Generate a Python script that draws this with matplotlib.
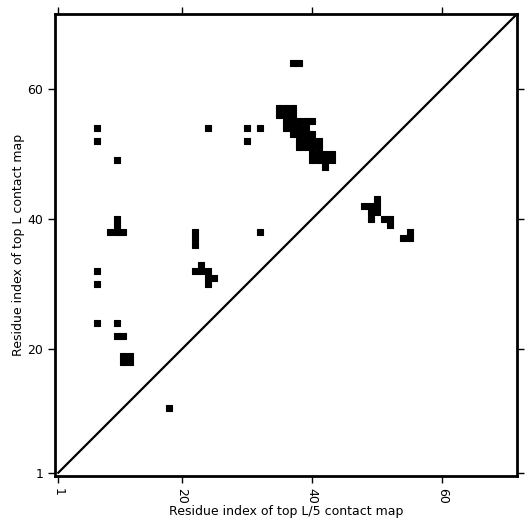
import matplotlib
matplotlib.use("Agg")
import matplotlib.pyplot as plt

plt.rcParams["font.size"] = 9

L = 71
ticks = [1, 20, 40, 60]

# contacts (residue i, residue j)
cx = [7, 7, 10, 24, 30, 32, 30,
      10, 10, 9, 10, 11,
      22, 22, 22, 32,
      7, 7,
      23, 22, 23, 24, 24, 25, 24,
      7, 10, 10, 11,
      11, 12, 11, 12,
      18,
      37, 38,
      35, 36, 37, 35, 36, 37,
      36, 37, 38, 39, 40,
      36, 37, 38, 39,
      37, 38, 39, 40,
      38, 39, 40, 41,
      38, 39, 40, 41,
      40, 41, 42, 43,
      40, 41, 42, 43,
      42,
      50, 48, 49, 50, 49, 50, 49, 51, 52, 52, 55, 54, 55]
cy = [54, 52, 49, 54, 54, 54, 52,
      40, 39, 38, 38, 38,
      38, 37, 36, 38,
      32, 30,
      33, 32, 32, 32, 31, 31, 30,
      24, 24, 22, 22,
      19, 19, 18, 18,
      11,
      64, 64,
      57, 57, 57, 56, 56, 56,
      55, 55, 55, 55, 55,
      54, 54, 54, 54,
      53, 53, 53, 53,
      52, 52, 52, 52,
      51, 51, 51, 51,
      50, 50, 50, 50,
      49, 49, 49, 49,
      48,
      43, 42, 42, 42, 41, 41, 40, 40, 40, 39, 38, 37, 37]

fig = plt.figure(figsize=(5.31, 5.31), dpi=100)
ax = fig.add_axes([0.1036, 0.1036, 0.87, 0.87])

ax.scatter(cx, cy, marker="s", s=23, c="black", edgecolors="black",
           linewidths=0.8, antialiased=False)
ax.plot([1, L + 1], [1, L + 1], color="black", linewidth=1.6)

ax.set_xlim(0.5, L + 0.5)
ax.set_ylim(0.5, L + 0.5)
ax.set_xticks(ticks)
ax.set_yticks(ticks)
ax.tick_params(direction="out", top=True, right=True, length=5, width=1)
plt.setp(ax.get_xticklabels(), rotation=270)
for s in ax.spines.values():
    s.set_linewidth(2)

ax.set_xlabel("Residue index of top L/5 contact map", labelpad=1)
ax.set_ylabel("Residue index of top L contact map", labelpad=2)

fig.savefig("out.png", dpi=100)
